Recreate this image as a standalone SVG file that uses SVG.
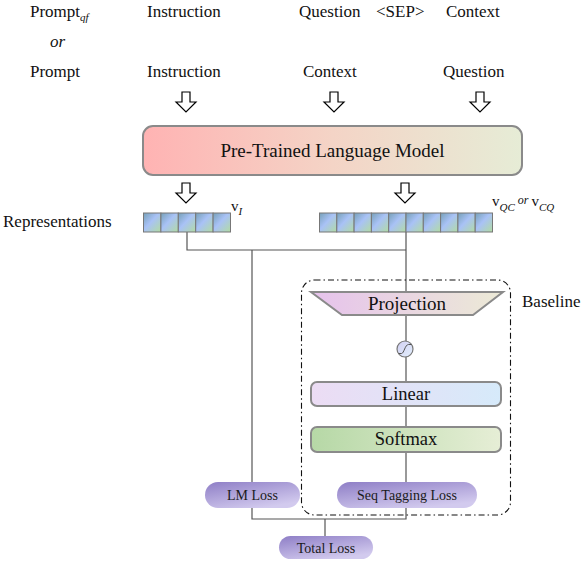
<svg xmlns="http://www.w3.org/2000/svg" width="584" height="562" viewBox="0 0 584 562">
<defs>
<linearGradient id="gPlm" x1="0" y1="0" x2="1" y2="0"><stop offset="0" stop-color="#ffb3b3"/><stop offset="0.5" stop-color="#f4d4c6"/><stop offset="1" stop-color="#e6ecd6"/></linearGradient>
<linearGradient id="gProj" x1="0" y1="0" x2="1" y2="0"><stop offset="0" stop-color="#e6c2ec"/><stop offset="1" stop-color="#ecead6"/></linearGradient>
<linearGradient id="gLin" x1="0" y1="0" x2="1" y2="0"><stop offset="0" stop-color="#ecdcf4"/><stop offset="1" stop-color="#d6eafa"/></linearGradient>
<linearGradient id="gSoft" x1="0" y1="0" x2="1" y2="0"><stop offset="0" stop-color="#b6d8a6"/><stop offset="1" stop-color="#e6eed6"/></linearGradient>
<linearGradient id="gCell" x1="0" y1="0" x2="1" y2="1"><stop offset="0" stop-color="#76a0b8"/><stop offset="0.45" stop-color="#a9c2f6"/><stop offset="1" stop-color="#b2dca2"/></linearGradient>
<linearGradient id="gLoss" x1="0" y1="0" x2="0.6" y2="1"><stop offset="0" stop-color="#8e7ec6"/><stop offset="1" stop-color="#d2caee"/></linearGradient>
<linearGradient id="gSig" x1="0" y1="0" x2="1" y2="1"><stop offset="0" stop-color="#d2d0f2"/><stop offset="1" stop-color="#e2eefc"/></linearGradient>
<symbol id="harrow" overflow="visible"><path d="M-4,0 L4,0 L4,10 L10,10 L0,20 L-10,10 L-4,10 Z" fill="#fff" stroke="#000" stroke-width="1.2" stroke-linejoin="miter"/></symbol>
</defs>
<style>
text{font-family:"Liberation Serif","Times New Roman",serif;fill:#111}
.lbl{font-size:17px}
.big{font-size:19px}
.mid{font-size:18.5px}
.loss{font-size:14px;fill:#1a1a1a}
.it{font-style:italic}
.box{stroke:#8a8a8a;stroke-width:2}
.cell{fill:url(#gCell);stroke:#777;stroke-width:1}
.wire{fill:none;stroke:#555;stroke-width:1.2}
.pill{fill:url(#gLoss)}
</style>
<rect width="584" height="562" fill="#fff"/>

<g id="inputs">
<text class="lbl" x="30" y="17">Prompt<tspan class="it" font-size="11" dy="4">qf</tspan></text>
<text class="lbl it" x="50" y="47" font-size="15">or</text>
<text class="lbl" x="30" y="77">Prompt</text>
<text class="lbl" x="147" y="17">Instruction</text>
<text class="lbl" x="299" y="17">Question</text>
<text class="lbl" x="376" y="17">&lt;SEP&gt;</text>
<text class="lbl" x="446" y="17">Context</text>
<text class="lbl" x="147" y="77">Instruction</text>
<text class="lbl" x="303" y="77">Context</text>
<text class="lbl" x="443" y="77">Question</text>
</g>

<g id="arrows">
<use href="#harrow" x="186" y="92"/>
<use href="#harrow" x="334" y="92"/>
<use href="#harrow" x="480" y="92"/>
<use href="#harrow" x="186" y="183"/>
<use href="#harrow" x="405" y="183"/>
</g>

<g id="connectors">
<path class="wire" d="M187,232 V250 H406"/>
<path class="wire" d="M406,232 V482"/>
<path class="wire" d="M252,250 V482"/>
<path class="wire" d="M252,508 V519 H406 V508"/>
<path class="wire" d="M325,519 V536"/>
</g>

<g id="plm">
<rect class="box" x="143" y="126" width="379" height="49" rx="10" fill="url(#gPlm)"/>
<text class="big" x="332.5" y="157" text-anchor="middle">Pre-Trained Language Model</text>
</g>

<g id="representations">
<text class="lbl" x="3" y="227">Representations</text>
</g>

<g id="vI">
<rect class="cell" x="143.5" y="213" width="17.4" height="19"/>
<rect class="cell" x="160.9" y="213" width="17.4" height="19"/>
<rect class="cell" x="178.3" y="213" width="17.4" height="19"/>
<rect class="cell" x="195.7" y="213" width="17.4" height="19"/>
<rect class="cell" x="213.1" y="213" width="17.4" height="19"/>
<text x="231" y="211" font-size="15">v<tspan class="it" font-size="11" dy="4">I</tspan></text>
</g>

<g id="vQC">
<rect class="cell" x="319.5" y="213" width="17.3" height="19"/>
<rect class="cell" x="336.8" y="213" width="17.3" height="19"/>
<rect class="cell" x="354.1" y="213" width="17.3" height="19"/>
<rect class="cell" x="371.4" y="213" width="17.3" height="19"/>
<rect class="cell" x="388.7" y="213" width="17.3" height="19"/>
<rect class="cell" x="406.0" y="213" width="17.3" height="19"/>
<rect class="cell" x="423.3" y="213" width="17.3" height="19"/>
<rect class="cell" x="440.6" y="213" width="17.3" height="19"/>
<rect class="cell" x="457.9" y="213" width="17.3" height="19"/>
<rect class="cell" x="475.2" y="213" width="17.3" height="19"/>
<text x="492" y="206" font-size="15">v<tspan class="it" font-size="11" dy="5">QC</tspan><tspan class="it" font-size="12" dy="-7"> or </tspan><tspan font-size="15" dy="2">v</tspan><tspan class="it" font-size="11" dy="5">CQ</tspan></text>
</g>

<g id="baseline">
<rect x="301.5" y="280" width="209" height="235" rx="13" fill="none" stroke="#111" stroke-width="1.1" stroke-dasharray="6 3 1.5 3"/>
<text class="lbl" x="522" y="307">Baseline</text>
</g>

<g id="projection">
<path class="box" d="M311,292 H503 L473,315 H342 Z" fill="url(#gProj)"/>
<text class="big" x="407" y="310" text-anchor="middle">Projection</text>
</g>

<g id="sigmoid">
<circle cx="405" cy="349" r="8" fill="url(#gSig)" stroke="#777" stroke-width="1.2"/>
<path d="M398.5,353.5 L401.5,353.5 C404,353.5 405,344.5 408.5,344.5 L411.5,344.5" fill="none" stroke="#555" stroke-width="1"/>
</g>

<g id="linear">
<rect class="box" x="311" y="382" width="190" height="24" rx="6" fill="url(#gLin)"/>
<text class="mid" x="406" y="400" text-anchor="middle">Linear</text>
</g>

<g id="softmax">
<rect class="box" x="311" y="427" width="190" height="25" rx="6" fill="url(#gSoft)"/>
<text class="mid" x="406" y="445" text-anchor="middle">Softmax</text>
</g>

<g id="lmloss">
<rect class="pill" x="205" y="482" width="95" height="26" rx="13"/>
<text class="loss" x="252.5" y="500" text-anchor="middle">LM Loss</text>
</g>

<g id="seqloss">
<rect class="pill" x="337" y="482" width="140" height="26" rx="13"/>
<text class="loss" x="407" y="500" text-anchor="middle">Seq Tagging Loss</text>
</g>

<g id="totalloss">
<rect class="pill" x="279" y="536" width="94" height="23" rx="11.5"/>
<text class="loss" x="326" y="553" text-anchor="middle">Total Loss</text>
</g>
</svg>
